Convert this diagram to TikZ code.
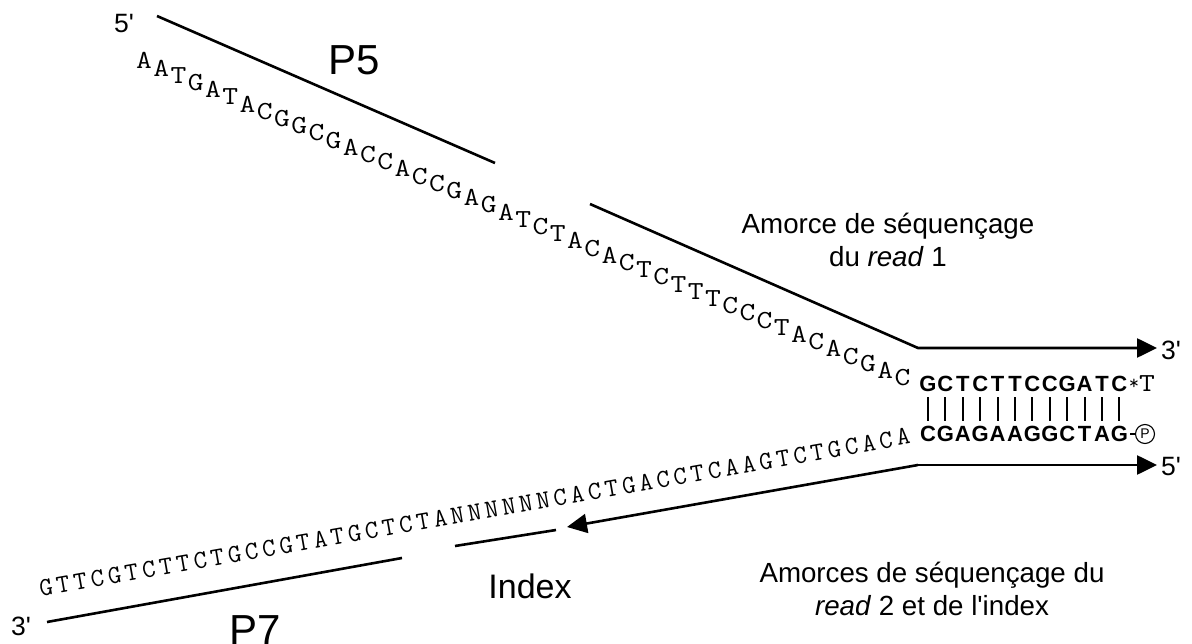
\documentclass[tikz,border=0pt]{standalone}
\usepackage{fontspec}
\setmainfont{Liberation Sans}
\usetikzlibrary{arrows.meta}
% straight apostrophe, bypassing the TeX quote mapping
\newcommand\apos{\XeTeXglyph\XeTeXcharglyph"0027\relax}
\begin{document}
\begin{tikzpicture}[x=1pt,y=-1pt,
  strand/.style={line width=2.6pt},
  arr/.style={strand,-{Triangle[length=20pt,width=19pt]}},
  base/.style={font=\fontsize{26}{26}\ttfamily, text=black, inner sep=0pt,
    text height=15.9pt, text depth=0pt, anchor=center},
  light/.style={base, xscale=1.18},
  slanted/.style={base, rotate=10},
  boldbase/.style={font=\fontsize{22}{22}\selectfont\bfseries, inner sep=0pt,
    text height=15.8pt, text depth=0pt, anchor=center},
  pairbar/.style={line width=2pt, shorten <=5pt, shorten >=5pt},
  endlbl/.style={font=\fontsize{26.5}{26.5}\selectfont, inner sep=0pt},
  big/.style={font=\fontsize{42}{42}\selectfont, inner sep=0pt},
  note/.style={font=\fontsize{27.7}{33}\selectfont, align=center, inner sep=0pt}]
\useasboundingbox (0,0) rectangle (1192,644);

% strand geometry
\coordinate (p5a) at (157,16);
\coordinate (p5b) at (495,163);
\coordinate (r1a) at (590,204);
\coordinate (r1b) at (918,348);
\coordinate (r1c) at (1157,348);
\coordinate (r2a) at (918,465);
\coordinate (r2b) at (1157,465);
\coordinate (r2c) at (567,527);
\coordinate (ixa) at (556,530);
\coordinate (ixb) at (455,546);
\coordinate (p7a) at (402,558);
\coordinate (p7b) at (47,622);

\draw[strand] (p5a) -- (p5b);
\draw[arr] (r1a) -- (r1b) -- (r1c);
\draw[arr] (r2a) -- (r2b);
\draw[arr] (r2a) -- (r2c);
\draw[strand] (ixa) -- (ixb);
\draw[strand] (p7a) -- (p7b);

% upper adapter strand, letters stepping down
\foreach \c [count=\i from 0] in {A,A,T,G,A,T,A,C,G,G,C,G,A,C,C,A,C,C,G,A,G,A,T,C,T,A,C,A,C,T,C,T,T,T,C,C,C,T,A,C,A,C,G,A,C}
  \node[light] (t\i) at ({144+17.24*\i},{61+7.2*\i}) {\c};

% lower adapter strand, text along the slope
\foreach \c [count=\i from 0] in {G,T,T,C,G,T,C,T,T,C,T,G,C,C,G,T,A,T,G,C,T,C,T,A,N,N,N,N,N,N,C,A,C,T,G,A,C,C,T,C,A,A,G,T,C,T,G,C,A,C,A}
  \node[slanted] (b\i) at ({46+17.14*\i},{588-3.02*\i}) {\c};

% paired region
\foreach \c [count=\i from 0] in {G,C,T,C,T,T,C,C,G,A,T,C}
  \node[boldbase] (g\i) at ({928+17.4*\i},384) {\c};
\foreach \c [count=\i from 0] in {C,G,A,G,A,A,G,G,C,T,A,G}
  \node[boldbase] (c\i) at ({928+17.4*\i},434) {\c};
\foreach \i in {0,...,11}
  \draw[pairbar] (g\i.south) -- (c\i.north);

\node[base, font=\fontsize{20}{20}\ttfamily] (ast) at (1134,382) {*};
\node[light] (tend) at (1147,384) {T};
\node[draw, circle, line width=1.1pt, minimum size=19pt, inner sep=0pt,
  font=\fontsize{14}{14}\selectfont] (ph) at (1145,434) {P};
\draw[line width=1.5pt] ([xshift=2pt]c11.east) -- (ph.west);

% end labels
\node[endlbl] (e5top) at (124,24) {5\apos};
\node[endlbl, anchor=west] (e3r) at (1161,350) {3\apos};
\node[endlbl, anchor=west] (e5r) at (1161,467) {5\apos};
\node[endlbl] (e3bot) at (21,626) {3\apos};

% region names
\node[big] (p5) at (354,60) {P5};
\node[big] (p7) at (255,630) {P7};
\node[font=\fontsize{34}{34}\selectfont, inner sep=0pt] (idx) at (530,586) {Index};

\node[note] (am1) at (888,240) {Amorce de séquençage\\du \textit{read} 1};
\node[note] (am2) at (932,589) {Amorces de séquençage du\\\textit{read} 2 et de l\apos index};
\end{tikzpicture}
\end{document}
